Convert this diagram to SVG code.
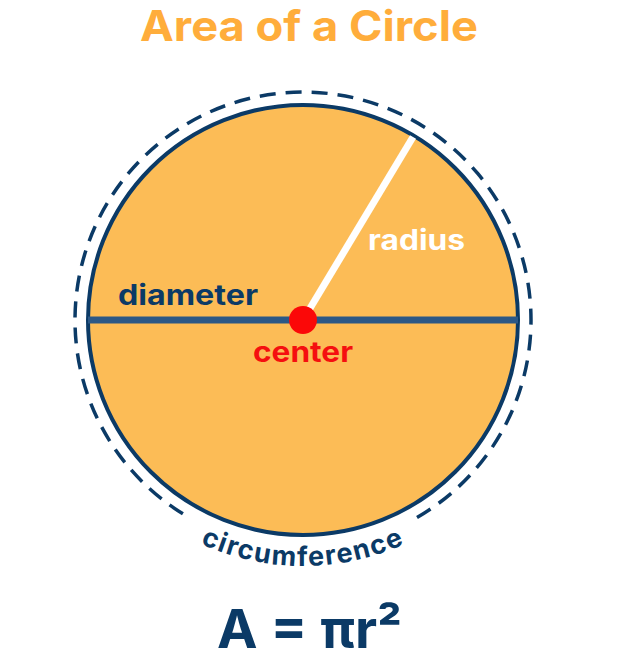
<svg xmlns="http://www.w3.org/2000/svg" width="628" height="664" viewBox="0 0 628 664">
<style>
.t{font-family:Inter,"Open Sans","Liberation Sans",sans-serif;font-weight:700}
</style>
<defs>
<path id="arc" d="M 57 320 A 246 246 0 0 0 549 320"/>
</defs>
<rect width="628" height="664" fill="#ffffff"/>
<text class="t" x="309" y="41" text-anchor="middle" font-size="42" fill="#ffad3b" textLength="338" lengthAdjust="spacingAndGlyphs">Area of a Circle</text>
<g id="circle">
<circle cx="303" cy="320" r="215" fill="#fcbc56" stroke="#0b3a66" stroke-width="4"/>
</g>
<g id="circumference-outline">
<path d="M 417 517.5 A 228 228 0 1 0 189 517.5" fill="none" stroke="#0b3a66" stroke-width="3.5" stroke-dasharray="16 10"/>
</g>
<g id="connectors">
<line x1="88" y1="320" x2="518" y2="320" stroke="#2c5886" stroke-width="7"/>
<line x1="303" y1="320" x2="413" y2="137" stroke="#ffffff" stroke-width="7"/>
</g>
<g id="center">
<circle cx="303" cy="320" r="14" fill="#fb0808"/>
</g>
<text class="t" x="118" y="305" font-size="28" fill="#0b3a66" textLength="140" lengthAdjust="spacingAndGlyphs">diameter</text>
<text class="t" x="368" y="250" font-size="28" fill="#ffffff" textLength="97" lengthAdjust="spacingAndGlyphs">radius</text>
<text class="t" x="253" y="362" font-size="28" fill="#f50f0f" textLength="100" lengthAdjust="spacingAndGlyphs">center</text>
<text class="t" font-size="27" font-weight="800" letter-spacing="1.5" fill="#0b3a66"><textPath href="#arc" startOffset="50%" text-anchor="middle">circumference</textPath></text>
<text class="t" x="217" y="648" font-size="54" fill="#0b3a66" textLength="185" lengthAdjust="spacingAndGlyphs">A = πr²</text>
</svg>
